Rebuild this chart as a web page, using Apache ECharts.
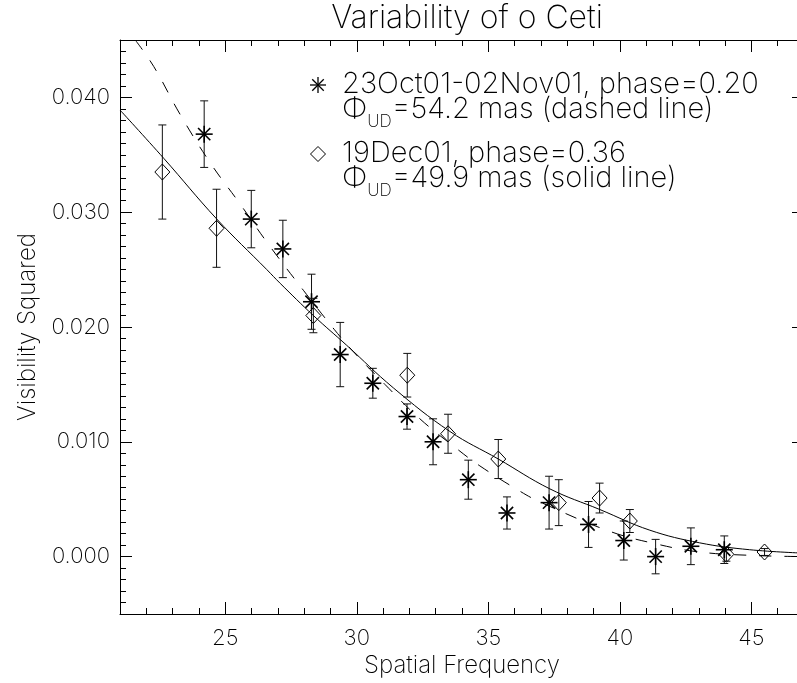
<!DOCTYPE html>
<html>
<head>
<meta charset="utf-8">
<script src="https://cdn.jsdelivr.net/npm/echarts@6.0.0/dist/echarts.min.js"></script>
<style>
html,body{margin:0;padding:0;overflow:hidden;background:#fff;}
#chart{width:811px;height:683px;}
</style>
</head>
<body>
<div id="chart"></div>
<script>
// ---- data ----
const starX   = [24.20, 25.99, 27.19, 28.28, 29.37, 30.61, 31.91, 32.90, 34.24, 35.71, 37.31, 38.81, 40.15, 41.36, 42.70, 43.97];
const starY   = [0.0368, 0.0294, 0.0268, 0.0222, 0.0176, 0.0151, 0.0122, 0.0100, 0.0067, 0.0038, 0.0047, 0.0028, 0.0014, 0.0000, 0.0009, 0.0006];
const starErr = [0.0029, 0.0025, 0.0025, 0.0024, 0.0028, 0.0013, 0.0011, 0.0020, 0.0017, 0.0014, 0.0023, 0.0020, 0.0017, 0.0015, 0.0016, 0.0012];

const diaX   = [22.61, 24.67, 28.35, 31.92, 33.47, 35.38, 37.68, 39.23, 40.38, 44.05, 45.50];
const diaY   = [0.0335, 0.0286, 0.0210, 0.0158, 0.0107, 0.0085, 0.0047, 0.0051, 0.0031, 0.0002, 0.0004];
const diaErr = [0.0041, 0.0034, 0.0015, 0.0019, 0.0017, 0.0017, 0.0020, 0.0013, 0.0010, 0.0006, 0.0003];

const dashX = [21.58, 22.28, 23.29, 24.43, 25.57, 26.58, 27.97, 29.14, 29.81, 31.07, 32.40, 33.80, 34.68, 36.20, 37.02, 39.62, 41.39, 43.03, 45.06, 47.00];
const dashY = [0.0450, 0.0427, 0.0385, 0.0343, 0.0307, 0.0274, 0.0232, 0.0198, 0.0180, 0.0150, 0.0120, 0.0094, 0.0079, 0.0057, 0.0047, 0.0022, 0.0011, 0.0004, 0.0001, 0.0000];

const solidX = [21.00, 22.66, 24.68, 26.58, 27.09, 28.35, 29.62, 31.39, 33.54, 35.38, 37.34, 39.24, 41.14, 43.03, 44.93, 47.00];
const solidY = [0.0389, 0.0347, 0.0294, 0.0250, 0.0238, 0.0210, 0.0184, 0.0147, 0.0109, 0.0085, 0.0059, 0.0041, 0.0023, 0.0012, 0.0006, 0.0003];

const titleText = 'Variability of o Ceti';
const xTitle = 'Spatial Frequency';
const yTitle = 'Visibility Squared';
const legendLines = [
  ['23Oct01-02Nov01, phase=0.20', '54.2 mas (dashed line)'],
  ['19Dec01, phase=0.36', '49.9 mas (solid line)']
];

// ---- chart ----
const FONT = 'Inter';
const FW = 200;
const xMin = 21, xMax = 47, yMin = -0.005, yMax = 0.045;

function zip3(a, b, c) { return a.map((v, i) => [v, b[i], c[i]]); }
function zip2(a, b) { return a.map((v, i) => [v, b[i]]); }

function errBar(api, x, y, e, cap) {
  const t = api.coord([x, y + e]);
  const b = api.coord([x, y - e]);
  const st = {stroke: '#111', lineWidth: 1};
  return [
    {type: 'line', shape: {x1: t[0], y1: t[1], x2: b[0], y2: b[1]}, style: st},
    {type: 'line', shape: {x1: t[0] - cap, y1: t[1], x2: t[0] + cap, y2: t[1]}, style: st},
    {type: 'line', shape: {x1: b[0] - cap, y1: b[1], x2: b[0] + cap, y2: b[1]}, style: st}
  ];
}
function starShapes(cx, cy, r, lw) {
  const d = r * 0.72;
  const st = {stroke: '#000', lineWidth: lw};
  return [
    {type: 'line', shape: {x1: cx, y1: cy - r, x2: cx, y2: cy + r}, style: st},
    {type: 'line', shape: {x1: cx - r, y1: cy, x2: cx + r, y2: cy}, style: st},
    {type: 'line', shape: {x1: cx - d, y1: cy - d, x2: cx + d, y2: cy + d}, style: st},
    {type: 'line', shape: {x1: cx - d, y1: cy + d, x2: cx + d, y2: cy - d}, style: st}
  ];
}
function diamondShape(cx, cy, w, h) {
  return {type: 'polygon', shape: {points: [[cx, cy - h], [cx + w, cy], [cx, cy + h], [cx - w, cy]]},
          style: {fill: 'none', stroke: '#000', lineWidth: 1}};
}

const lbl = {fontFamily: FONT, fontWeight: FW, color: '#000'};

function xAx(pos, major) {
  return {
    type: 'value', min: xMin, max: xMax, position: pos,
    interval: major ? undefined : 1,
    splitNumber: 5,
    splitLine: {show: false},
    axisLine: {show: major, onZero: false, lineStyle: {color: '#000', width: 1}},
    axisTick: {show: true, inside: true, length: major ? 12 : 6, lineStyle: {color: '#000', width: 1}},
    axisLabel: (pos === 'bottom' && major) ? Object.assign({show: true, fontSize: 22, margin: 13, showMinLabel: false, showMaxLabel: false}, lbl) : {show: false},
    name: (pos === 'bottom' && major) ? xTitle : '',
    nameLocation: 'middle', nameGap: 40,
    nameTextStyle: Object.assign({fontSize: 24}, lbl)
  };
}
function yAx(pos, major) {
  return {
    type: 'value', min: yMin, max: yMax, position: pos,
    interval: major ? undefined : 0.001,
    splitNumber: 5,
    splitLine: {show: false},
    axisLine: {show: major, onZero: false, lineStyle: {color: '#000', width: 1}},
    axisTick: {show: true, inside: true, length: major ? 12 : 6, lineStyle: {color: '#000', width: 1}},
    axisLabel: (pos === 'left' && major) ? Object.assign({show: true, fontSize: 22, margin: 10, showMinLabel: false, showMaxLabel: false,
                 formatter: v => v.toFixed(3)}, lbl) : {show: false},
    name: (pos === 'left' && major) ? yTitle : '',
    nameLocation: 'middle', nameGap: 80, nameRotate: 90,
    nameTextStyle: Object.assign({fontSize: 24}, lbl)
  };
}

const chart = echarts.init(document.getElementById('chart'), null, {renderer: 'canvas'});

const legendX = 342, symX = 318;
const legendY = [84, 109, 153, 178];
const legFont = 29;
function legText(y, txt) {
  return {type: 'text', left: legendX, top: y - legFont * 0.5,
          style: {text: txt, font: FW + ' ' + legFont + 'px ' + FONT, fill: '#000'}};
}
function legPhi(y, rest) {
  return {type: 'text', left: legendX, top: y - legFont * 0.5,
          style: {text: '{p|Φ}{s|UD}{p|=' + rest + '}',
                  rich: {p: {fontFamily: FONT, fontWeight: FW, fontSize: legFont, color: '#000', verticalAlign: 'bottom'},
                         s: {fontFamily: FONT, fontWeight: FW, fontSize: 17, color: '#000', verticalAlign: 'bottom', padding: [0, 0, -7, 0]}}}};
}

const option = {
  backgroundColor: '#fff',
  animation: false,
  title: {
    text: titleText, left: 462, top: -3, textAlign: 'center',
    textStyle: {fontFamily: FONT, fontWeight: FW, fontSize: 32, color: '#000'}
  },
  grid: {left: 120, right: 7, top: 40, bottom: 67, containLabel: false},
  xAxis: [xAx('bottom', true), xAx('bottom', false), xAx('top', true), xAx('top', false)],
  yAxis: [yAx('left', true), yAx('left', false), yAx('right', true), yAx('right', false)],
  series: [
    {
      name: 'solid fit', type: 'line', xAxisIndex: 0, yAxisIndex: 0,
      data: zip2(solidX, solidY), showSymbol: false, smooth: 0.4, clip: true,
      lineStyle: {color: '#000', width: 1, type: 'solid'}
    },
    {
      name: 'dashed fit', type: 'line', xAxisIndex: 0, yAxisIndex: 0,
      data: zip2(dashX, dashY), showSymbol: false, smooth: 0.4, clip: true,
      lineStyle: {color: '#000', width: 1, type: [12, 13]}
    },
    {
      name: '23Oct01-02Nov01', type: 'custom', xAxisIndex: 0, yAxisIndex: 0,
      data: zip3(starX, starY, starErr),
      encode: {x: 0, y: 1},
      renderItem: function (params, api) {
        const x = api.value(0), y = api.value(1), e = api.value(2);
        const c = api.coord([x, y]);
        return {type: 'group', children: errBar(api, x, y, e, 4).concat(starShapes(c[0], c[1], 8.5, 1.6))};
      }
    },
    {
      name: '19Dec01', type: 'custom', xAxisIndex: 0, yAxisIndex: 0,
      data: zip3(diaX, diaY, diaErr),
      encode: {x: 0, y: 1},
      renderItem: function (params, api) {
        const x = api.value(0), y = api.value(1), e = api.value(2);
        const c = api.coord([x, y]);
        return {type: 'group', children: errBar(api, x, y, e, 4).concat([diamondShape(c[0], c[1], 7.5, 8)])};
      }
    }
  ],
  graphic: [
    {type: 'group', children: starShapes(symX, legendY[0] + 1, 8, 1.3)},
    {type: 'group', children: [diamondShape(symX, legendY[2] + 1, 7.5, 7.5)]},
    legText(legendY[0], legendLines[0][0]),
    legPhi(legendY[1], legendLines[0][1]),
    legText(legendY[2], legendLines[1][0]),
    legPhi(legendY[3], legendLines[1][1])
  ]
};
chart.setOption(option);
</script>
</body>
</html>
